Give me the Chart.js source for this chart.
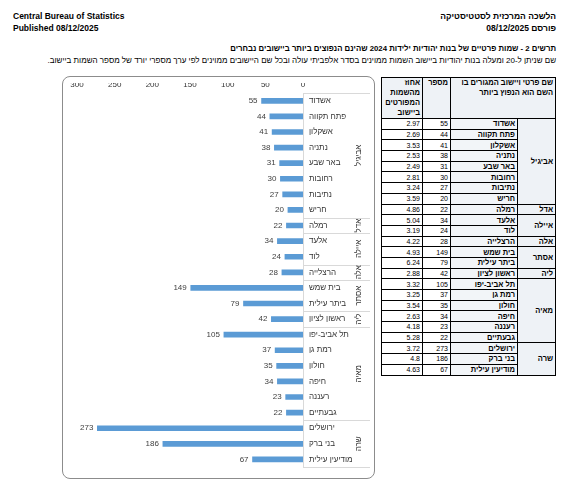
<!DOCTYPE html>
<html>
<head>
<meta charset="utf-8">
<script src="https://cdn.jsdelivr.net/npm/chart.js@4"></script>
<style>
  body { margin: 0; width: 564px; height: 492px; background: #fff; position: relative; font-family: "Liberation Sans", Arial, sans-serif; color: #000; }
  .hdr { position: absolute; font-size: 8.5px; font-weight: bold; line-height: 12px; }
  .ttl { position: absolute; right: 8px; line-height: 12px; white-space: nowrap; }
  #frame { position: absolute; left: 62px; top: 76px; width: 313px; height: 403px; box-sizing: border-box; border: 1px solid #8c8c8c; border-radius: 8px; }
  #chart { position: absolute; left: 0; top: 0; }
  table { position: absolute; left: 381px; top: 77px; width: 174px; border-collapse: collapse; table-layout: fixed; }
  td, th { border: 1px solid #000; padding: 0 2px; overflow: hidden; white-space: nowrap; }
  th { background: #eef2f6; font-size: 7.5px; font-weight: bold; text-align: right; vertical-align: top; line-height: 10px; height: 40px; }
  td { font-size: 7px; height: 9.7px; line-height: 9px; text-align: right; }
  td.nm { background: #f2f5f8; font-weight: bold; font-size: 7.5px; }
  td.gr { background: #eef2f6; font-weight: bold; font-size: 7.5px; vertical-align: middle; }
</style>
</head>
<body>
<div class="hdr" style="left:13px; top:10px;">Central Bureau of Statistics<br>Published 08/12/2025</div>
<div class="hdr" dir="rtl" style="right:8px; top:10px; text-align:right;">הלשכה המרכזית לסטטיסטיקה<br>פורסם 08/12/2025</div>
<div class="ttl" dir="rtl" style="top:43px; font-weight:bold; font-size:7.8px;">תרשים 2 - שמות פרטיים של בנות יהודיות ילידות 2024 שהינם הנפוצים ביותר ביישובים נבחרים</div>
<div class="ttl" dir="rtl" style="top:55px; font-size:8px;">שם שניתן ל-20 ומעלה בנות יהודיות ביישוב השמות ממוינים בסדר אלפביתי עולה ובכל שם היישובים ממוינים לפי ערך מספרי יורד של מספר השמות ביישוב.</div>

<div id="frame"><canvas id="chart" width="311" height="401"></canvas></div>

<table dir="rtl">
  <colgroup><col style="width:38px"><col style="width:67px"><col style="width:28px"><col style="width:41px"></colgroup>
  <thead><tr>
    <th colspan="2">שם פרטי ויישוב המגורים בו<br>השם הוא הנפוץ ביותר</th>
    <th>מספר</th>
    <th>אחוז<br>מהשמות<br>המפורטים<br>ביישוב</th>
  </tr></thead>
  <tbody id="rows"></tbody>
</table>

<script>
const groupNames = ['אביגיל', 'אדל', 'איילה', 'אלה', 'אסתר', 'ליה', 'מאיה', 'שרה'];
const groupSizes = [8, 1, 2, 1, 2, 1, 6, 3];
const cities = [
  'אשדוד', 'פתח תקווה', 'אשקלון', 'נתניה', 'באר שבע', 'רחובות', 'נתיבות', 'חריש',
  'רמלה', 'אלעד', 'לוד', 'הרצלייה', 'בית שמש', 'ביתר עילית', 'ראשון לציון',
  'תל אביב-יפו', 'רמת גן', 'חולון', 'חיפה', 'רעננה', 'גבעתיים',
  'ירושלים', 'בני ברק', 'מודיעין עילית'
];
const nameCounts = [55, 44, 41, 38, 31, 30, 27, 20, 22, 34, 24, 28, 149, 79, 42, 105, 37, 35, 34, 23, 22, 273, 186, 67];
const namePercents = ['2.97', '2.69', '3.53', '2.53', '2.49', '2.81', '3.24', '3.59', '4.86', '5.04', '3.19', '4.22',
  '4.93', '6.24', '2.88', '3.32', '3.25', '3.54', '2.63', '4.18', '5.28', '3.72', '4.8', '4.63'];
const xTicks = [0, 50, 100, 150, 200, 250, 300];

const FONT = '"Liberation Sans", Arial, sans-serif';
Chart.defaults.font.family = FONT;

// table on the right
const tbody = document.getElementById('rows');
let idx = 0;
groupNames.forEach((g, gi) => {
  for (let k = 0; k < groupSizes[gi]; k++) {
    const tr = document.createElement('tr');
    if (k === 0) {
      const td = document.createElement('td');
      td.className = 'gr';
      td.rowSpan = groupSizes[gi];
      td.textContent = g;
      tr.appendChild(td);
    }
    const nm = document.createElement('td');
    nm.className = 'nm';
    nm.textContent = cities[idx];
    const ct = document.createElement('td');
    ct.textContent = nameCounts[idx];
    const pc = document.createElement('td');
    pc.textContent = namePercents[idx];
    tr.appendChild(nm);
    tr.appendChild(ct);
    tr.appendChild(pc);
    tbody.appendChild(tr);
    idx++;
  }
});

// numbers to the left of each bar
const valueLabels = {
  id: 'valueLabels',
  afterDatasetsDraw(chart) {
    const ctx = chart.ctx;
    const meta = chart.getDatasetMeta(0);
    ctx.save();
    ctx.font = '8px ' + FONT;
    ctx.fillStyle = '#404040';
    ctx.textAlign = 'right';
    ctx.textBaseline = 'middle';
    meta.data.forEach((bar, i) => {
      ctx.fillText(String(nameCounts[i]), bar.x - 4, bar.y);
    });
    ctx.restore();
  }
};

// second level of the category axis: group names and separators
const groupAxis = {
  id: 'groupAxis',
  afterDraw(chart) {
    const ctx = chart.ctx;
    const yScale = chart.scales.y;
    const x0 = chart.chartArea.right;
    const x1 = x0 + 67;
    ctx.save();
    ctx.strokeStyle = '#d9d9d9';
    ctx.lineWidth = 1;
    let start = 0;
    const edges = [0];
    groupSizes.forEach(n => { start += n; edges.push(start); });
    edges.forEach(b => {
      const y = Math.round(yScale.getPixelForValue(b - 0.5)) + 0.5;
      ctx.beginPath();
      ctx.moveTo(x0, y);
      ctx.lineTo(x1, y);
      ctx.stroke();
    });
    ctx.font = '8px ' + FONT;
    ctx.fillStyle = '#333';
    ctx.textAlign = 'center';
    ctx.textBaseline = 'middle';
    groupNames.forEach((g, gi) => {
      const yc = (yScale.getPixelForValue(edges[gi] - 0.5) + yScale.getPixelForValue(edges[gi + 1] - 0.5)) / 2;
      ctx.save();
      ctx.translate(x0 + 56, yc);
      ctx.rotate(-Math.PI / 2);
      ctx.fillText(g, 0, 0);
      ctx.restore();
    });
    ctx.restore();
  }
};

new Chart(document.getElementById('chart'), {
  type: 'bar',
  data: {
    labels: cities,
    datasets: [{
      data: nameCounts,
      backgroundColor: '#5b9bd5',
      barThickness: 5,
    }],
  },
  options: {
    indexAxis: 'y',
    responsive: false,
    animation: false,
    layout: { padding: { left: 14, top: 6, bottom: 6, right: 0 } },
    plugins: {
      legend: { display: false },
      tooltip: { enabled: false },
    },
    scales: {
      x: {
        position: 'top',
        reverse: true,
        min: 0,
        max: 300,
        grid: { display: false, drawTicks: false },
        border: { display: false },
        ticks: { padding: 3, color: '#333', font: { size: 8 } },
        afterBuildTicks: (s) => { s.ticks = xTicks.map(v => ({ value: v })); },
        afterFit: (s) => { s.height = 10; },
      },
      y: {
        position: 'right',
        grid: { display: false, drawTicks: false },
        border: { display: true, color: '#d9d9d9' },
        ticks: { crossAlign: 'near', padding: 6, color: '#333', font: { size: 8 }, autoSkip: false },
        afterFit: (s) => { s.width = 71; },
      },
    },
  },
  plugins: [valueLabels, groupAxis],
});
</script>
</body>
</html>
